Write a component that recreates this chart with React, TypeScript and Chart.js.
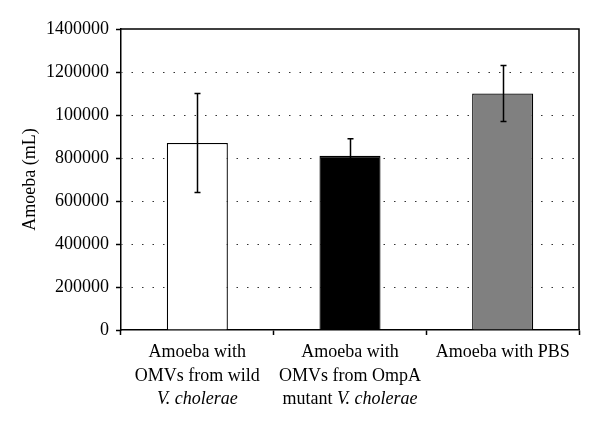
import React, { useEffect, useRef } from "react";
import { Chart, registerables } from "chart.js";

Chart.register(...registerables);

const categories = [
  "Amoeba with OMVs from wild V. cholerae",
  "Amoeba with OMVs from OmpA mutant V. cholerae",
  "Amoeba with PBS",
];
// label lines: each segment is [text, italic]
const labelLines: [string, boolean][][][] = [
  [[["Amoeba with", false]], [["OMVs from wild", false]], [["V. cholerae", true]]],
  [[["Amoeba with", false]], [["OMVs from OmpA", false]], [["mutant ", false], ["V. cholerae", true]]],
  [[["Amoeba with PBS", false]]],
];
const values = [870000, 810000, 1100000];
const errors = [230000, 80000, 130000];
const barColors = ["#ffffff", "#000000", "#808080"];
const yTickValues = [0, 200000, 400000, 600000, 800000, 1000000, 1200000, 1400000];
const yTickLabels = ["0", "200000", "400000", "600000", "800000", "100000", "1200000", "1400000"];
const yTitle = "Amoeba (mL)";

const FONT = "'Liberation Serif', 'Times New Roman', serif";

const decorPlugin = {
  id: "decor",
  afterDatasetsDraw(chart: any) {
    const { ctx, chartArea: a, scales } = chart;
    const x = scales.x;
    const y = scales.y;
    ctx.save();
    // error bars
    ctx.strokeStyle = "#000";
    ctx.lineWidth = 1.5;
    values.forEach((v, i) => {
      const px = Math.round(x.getPixelForValue(i)) + 0.5;
      const top = y.getPixelForValue(v + errors[i]);
      const bot = y.getPixelForValue(v - errors[i]);
      ctx.beginPath();
      ctx.moveTo(px, top);
      ctx.lineTo(px, bot);
      ctx.moveTo(px - 3, top);
      ctx.lineTo(px + 3, top);
      ctx.moveTo(px - 3, bot);
      ctx.lineTo(px + 3, bot);
      ctx.stroke();
    });
    // top and right frame
    ctx.lineWidth = 1.5;
    ctx.beginPath();
    ctx.moveTo(a.left, a.top);
    ctx.lineTo(a.right, a.top);
    ctx.lineTo(a.right, a.bottom);
    ctx.stroke();
    // category labels with italic parts
    ctx.fillStyle = "#000";
    ctx.textAlign = "left";
    ctx.textBaseline = "alphabetic";
    const normal = `18px ${FONT}`;
    const italic = `italic 18px ${FONT}`;
    labelLines.forEach((lines, i) => {
      const cx = x.getPixelForValue(i);
      lines.forEach((segs, j) => {
        let total = 0;
        segs.forEach(([t, it]) => {
          ctx.font = it ? italic : normal;
          total += ctx.measureText(t).width;
        });
        let sx = cx - total / 2;
        const by = a.bottom + 27 + j * 23.5;
        segs.forEach(([t, it]) => {
          ctx.font = it ? italic : normal;
          ctx.fillText(t, sx, by);
          sx += ctx.measureText(t).width;
        });
      });
    });
    ctx.restore();
  },
};

export default function App() {
  const ref = useRef<HTMLCanvasElement>(null);
  useEffect(() => {
    document.body.style.margin = "0";
    const chart = new Chart(ref.current as HTMLCanvasElement, {
      type: "bar",
      data: {
        labels: categories,
        datasets: [
          {
            data: values,
            backgroundColor: barColors,
            borderColor: "#000",
            borderWidth: 1.3,
            barPercentage: 0.4,
            categoryPercentage: 1,
          },
        ],
      },
      options: {
        responsive: false,
        animation: false,
        layout: { padding: { top: 29, right: 21, left: 0, bottom: 0 } },
        plugins: { legend: { display: false }, tooltip: { enabled: false } },
        scales: {
          x: {
            ticks: { display: false },
            grid: {
              drawOnChartArea: false,
              drawTicks: true,
              tickLength: 5,
              tickColor: "#000",
              tickWidth: 1.5,
            },
            border: { display: true, color: "#000", width: 1.5 },
            afterFit: (s: any) => {
              s.height = 100;
            },
          },
          y: {
            min: 0,
            max: 1400000,
            ticks: {
              stepSize: 200000,
              color: "#000",
              padding: 7,
              font: { family: FONT, size: 18 },
              callback: (v: any) => {
                const k = yTickValues.indexOf(Number(v));
                return k >= 0 ? yTickLabels[k] : String(v);
              },
            },
            grid: {
              color: (c: any) =>
                c.tick && (c.tick.value === 0 || c.tick.value === 1400000) ? "rgba(0,0,0,0)" : "#333",
              lineWidth: 1,
              drawTicks: true,
              tickLength: 5,
              tickColor: "#000",
              tickWidth: 1.5,
              tickBorderDash: [],
            },
            border: { display: true, color: "#000", width: 1.5, dash: [1.5, 9], dashOffset: -10 },
            title: {
              display: true,
              text: yTitle,
              color: "#000",
              font: { family: FONT, size: 18 },
              padding: { top: 19, bottom: 0 },
            },
            afterFit: (s: any) => {
              s.width = 121;
            },
          },
        },
      },
      plugins: [decorPlugin],
    });
    return () => chart.destroy();
  }, []);
  return (
    <div>
      <canvas ref={ref} width={600} height={430} />
    </div>
  );
}
